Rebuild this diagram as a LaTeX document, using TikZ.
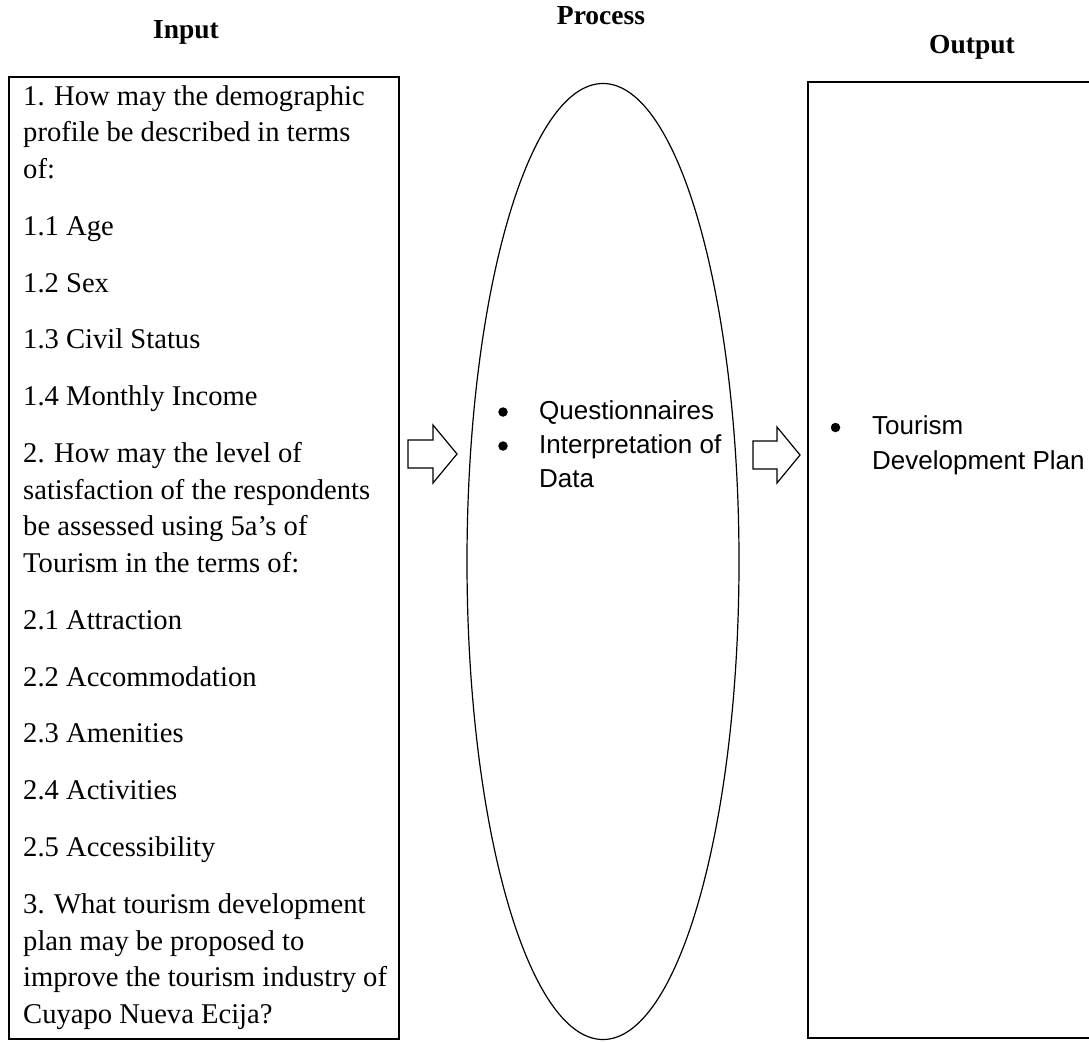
\documentclass[tikz,border=0pt]{standalone}
\usepackage{fontspec}
\setmainfont{Liberation Serif}
\newfontfamily\sansf{Liberation Sans}
\usetikzlibrary{shapes.geometric}
\begin{document}
\begin{tikzpicture}[x=1pt,y=-1pt,
  box/.style={draw=black,line width=1.2pt,inner sep=0pt,outer sep=0pt,anchor=north west},
  body/.style={anchor=base west,inner sep=0pt,font=\fontsize{28.6}{36}\selectfont},
  ttl/.style={anchor=base,inner sep=0pt,font=\fontsize{27.5}{33}\selectfont\bfseries},
  sbody/.style={anchor=base west,inner sep=0pt,font=\sansf\fontsize{26}{33}\selectfont},
  bul/.style={circle,fill=black,inner sep=0pt,minimum size=9.5pt},
  barrow/.style={draw=black,line width=1.2pt,fill=white,line join=miter}]
\useasboundingbox (0,0) rectangle (1089,1041);

% titles
\node[ttl] (tin) at (186,38) {Input};
\node[ttl] (tproc) at (601,25) {Process};
\node[ttl] (tout) at (972,54) {Output};

% frames
\node[box,minimum width=390pt,minimum height=962pt] (inbox) at (9,77) {};
\node[draw=black,line width=1.2pt,ellipse,inner sep=0pt,minimum width=272pt,minimum height=956pt] (proc) at (603,561.5) {};
\node[box,minimum width=300pt,minimum height=956pt] (outbox) at (808,82) {};

% block arrows
\coordinate (a1) at (408,454);
\coordinate (a2) at (753,455);
\draw[barrow] (a1) ++(0,-14) -- ++(25,0) -- ++(0,-15) -- ++(24,29) -- ++(-24,29) -- ++(0,-15) -- ++(-25,0) -- cycle;
\draw[barrow] (a2) ++(0,-14) -- ++(24,0) -- ++(0,-14) -- ++(23,28) -- ++(-23,28) -- ++(0,-14) -- ++(-24,0) -- cycle;

% input text
\node[body] (l1) at (23,105) {1. How may the demographic};
\node[body] (l2) at (23,141.7) {profile be described in terms};
\node[body] (l3) at (23,178.4) {of:};
\node[body] (l4) at (23,235.2) {1.1 Age};
\node[body] (l5) at (23,292) {1.2 Sex};
\node[body] (l6) at (23,348.8) {1.3 Civil Status};
\node[body] (l7) at (23,405.6) {1.4 Monthly Income};
\node[body] (l8) at (23,462.4) {2. How may the level of};
\node[body] (l9) at (23,499.1) {satisfaction of the respondents};
\node[body] (l10) at (23,535.8) {be assessed using 5a’s of};
\node[body] (l11) at (23,572.5) {Tourism in the terms of:};
\node[body] (l12) at (23,629.3) {2.1 Attraction};
\node[body] (l13) at (23,686.1) {2.2 Accommodation};
\node[body] (l14) at (23,742.9) {2.3 Amenities};
\node[body] (l15) at (23,799.7) {2.4 Activities};
\node[body] (l16) at (23,856.5) {2.5 Accessibility};
\node[body] (l17) at (23,913.3) {3. What tourism development};
\node[body] (l18) at (23,950) {plan may be proposed to};
\node[body] (l19) at (23,986.7) {improve the tourism industry of};
\node[body] (l20) at (23,1023.4) {Cuyapo Nueva Ecija?};

% process text
\node[bul] (pb1) at (503,412) {};
\node[sbody] (p1) at (539,419) {Questionnaires};
\node[bul] (pb2) at (503,446) {};
\node[sbody] (p2) at (539,453) {Interpretation of};
\node[sbody] (p3) at (539,487) {Data};

% output text
\node[bul] (ob1) at (835.5,427.5) {};
\node[sbody] (o1) at (872,434.5) {Tourism};
\node[sbody] (o2) at (872,469) {Development Plan};
\end{tikzpicture}
\end{document}
